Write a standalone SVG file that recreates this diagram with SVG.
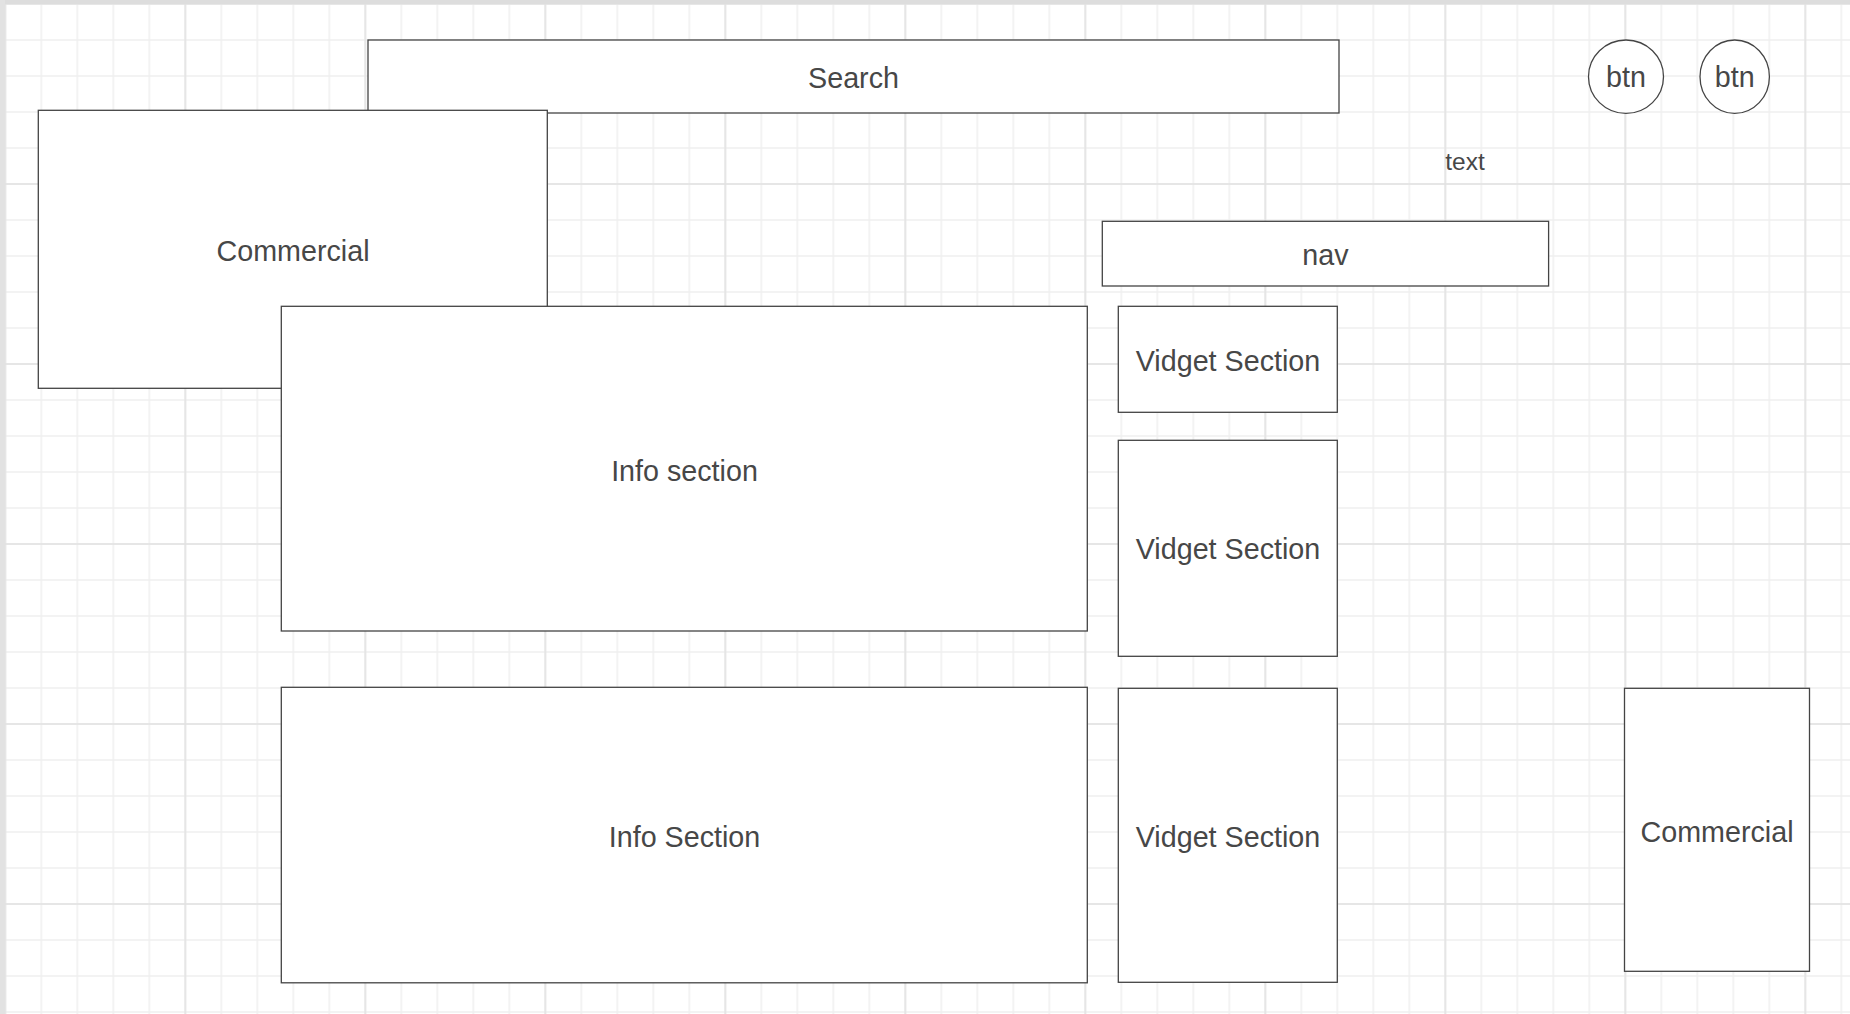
<svg xmlns="http://www.w3.org/2000/svg" width="1850" height="1014" viewBox="0 0 1850 1014">
  <style>
    .box { fill: #ffffff; stroke: #444444; stroke-width: 1.3; }
    .lbl { font-family: "Liberation Sans", Arial, sans-serif; font-size: 28.7px; fill: #474747; text-anchor: middle; }
    .small { font-size: 24.5px; }
  </style>
  <defs>
    <pattern id="minor" patternUnits="userSpaceOnUse" x="-12.7" y="-14" width="36" height="36">
      <path d="M18 0 V36 M0 18 H36" stroke="#efefef" stroke-width="1.5" fill="none"/>
    </pattern>
    <pattern id="major" patternUnits="userSpaceOnUse" x="-84.7" y="-86" width="180" height="180">
      <path d="M90 0 V180 M0 90 H180" stroke="#e2e2e2" stroke-width="1.5" fill="none"/>
    </pattern>
  </defs>

  <rect x="0" y="0" width="1850" height="1014" fill="#ffffff"/>
  <rect x="5" y="4" width="1845" height="1010" fill="url(#minor)"/>
  <rect x="5" y="4" width="1845" height="1010" fill="url(#major)"/>
  <rect x="0" y="0" width="1850" height="4" fill="#dddddd"/>
  <rect x="0" y="0" width="5" height="1014" fill="#e2e2e2"/>

  <g id="connectors"></g>

  <g id="search">
    <rect class="box" x="368" y="40" width="971" height="73"/>
    <text class="lbl" x="853.5" y="88">Search</text>
  </g>

  <g id="commercial-top">
    <rect class="box" x="38.3" y="110.3" width="509" height="278"/>
    <text class="lbl" x="293" y="261">Commercial</text>
  </g>

  <g id="info-section-1">
    <rect class="box" x="281.3" y="306.3" width="806" height="324.7"/>
    <text class="lbl" x="684.5" y="480.5">Info section</text>
  </g>

  <g id="info-section-2">
    <rect class="box" x="281.3" y="687.3" width="806" height="295.5"/>
    <text class="lbl" x="684.5" y="846.5">Info Section</text>
  </g>

  <g id="nav">
    <rect class="box" x="1102.3" y="221.3" width="446.3" height="64.7"/>
    <text class="lbl" x="1325.5" y="265">nav</text>
  </g>

  <g id="vidget-1">
    <rect class="box" x="1118.3" y="306.3" width="219" height="106"/>
    <text class="lbl" x="1228" y="370.7">Vidget Section</text>
  </g>

  <g id="vidget-2">
    <rect class="box" x="1118.3" y="440.3" width="219" height="216"/>
    <text class="lbl" x="1228" y="559.3">Vidget Section</text>
  </g>

  <g id="vidget-3">
    <rect class="box" x="1118.3" y="688.3" width="219" height="294"/>
    <text class="lbl" x="1228" y="846.7">Vidget Section</text>
  </g>

  <g id="commercial-right">
    <rect class="box" x="1624.5" y="688.3" width="185" height="283"/>
    <text class="lbl" x="1717" y="841.7">Commercial</text>
  </g>

  <g id="text-label">
    <text class="lbl small" x="1465" y="170">text</text>
  </g>

  <g id="btn-1">
    <ellipse class="box" cx="1626" cy="76.7" rx="37.5" ry="36.7"/>
    <text class="lbl" x="1626" y="87.3">btn</text>
  </g>

  <g id="btn-2">
    <ellipse class="box" cx="1734.7" cy="76.7" rx="34.7" ry="36.7"/>
    <text class="lbl" x="1734.7" y="87.3">btn</text>
  </g>
</svg>
